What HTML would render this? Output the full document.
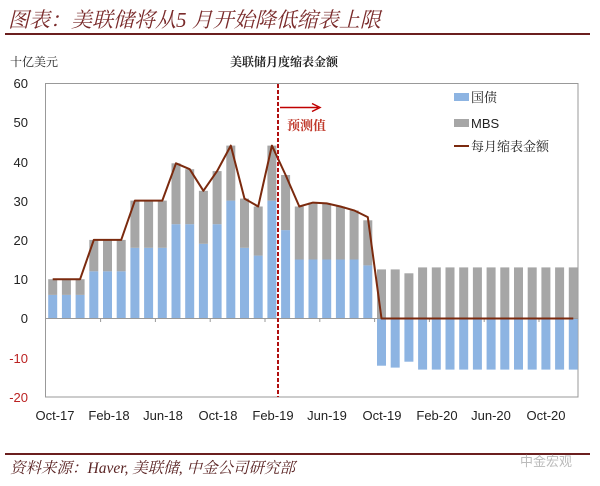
<!DOCTYPE html>
<html><head><meta charset="utf-8"><style>
body{margin:0;background:#fff;}
svg{display:block;}
text{font-family:"Liberation Sans","Noto Sans CJK SC",sans-serif;}
.s{font-family:"Liberation Serif","Noto Serif CJK SC",serif;}
</style></head><body>
<svg width="600" height="486" viewBox="0 0 600 486" xmlns="http://www.w3.org/2000/svg">
<text x="8" y="27" class="s" font-size="21" font-style="italic" fill="#7a2b2b">图表：美联储将从5 月开始降低缩表上限</text>
<line x1="5" y1="34" x2="590" y2="34" stroke="#6b1f1f" stroke-width="2"/>
<text x="10" y="66" class="s" font-size="12" fill="#222">十亿美元</text>
<text x="230" y="66" class="s" font-size="12" font-weight="bold" fill="#222">美联储月度缩表金额</text>
<rect x="45.5" y="83.5" width="532.5" height="313.5" fill="none" stroke="#999" stroke-width="1"/>
<g font-size="13" fill="#222" text-anchor="end">
<text x="28" y="88">60</text><text x="28" y="127">50</text><text x="28" y="167">40</text><text x="28" y="206">30</text><text x="28" y="245">20</text><text x="28" y="284">10</text><text x="28" y="323">0</text>
<text x="28" y="363" fill="#b22">-10</text><text x="28" y="402" fill="#b22">-20</text>
</g>
<g fill="#8db4e2">
<rect x="48.2" y="294.9" width="9" height="23.6"/><rect x="61.9" y="294.9" width="9" height="23.6"/><rect x="75.6" y="294.9" width="9" height="23.6"/>
<rect x="89.3" y="271.3" width="9" height="47.2"/><rect x="103" y="271.3" width="9" height="47.2"/><rect x="116.7" y="271.3" width="9" height="47.2"/>
<rect x="130.4" y="247.8" width="9" height="70.7"/><rect x="144.1" y="247.8" width="9" height="70.7"/><rect x="157.8" y="247.8" width="9" height="70.7"/>
<rect x="171.5" y="224.2" width="9" height="94.3"/><rect x="185.2" y="224.2" width="9" height="94.3"/><rect x="198.9" y="243.8" width="9" height="74.7"/>
<rect x="212.6" y="224.2" width="9" height="94.3"/><rect x="226.3" y="200.6" width="9" height="117.9"/><rect x="240" y="247.8" width="9" height="70.7"/>
<rect x="253.7" y="255.6" width="9" height="62.9"/><rect x="267.4" y="200.6" width="9" height="117.9"/><rect x="281.1" y="230.1" width="9" height="88.4"/>
<rect x="294.8" y="259.5" width="9" height="59"/><rect x="308.5" y="259.5" width="9" height="59"/><rect x="322.2" y="259.5" width="9" height="59"/>
<rect x="335.9" y="259.5" width="9" height="59"/><rect x="349.6" y="259.5" width="9" height="59"/><rect x="363.3" y="265.4" width="9" height="53.1"/>
<rect x="377" y="318.5" width="9" height="47.2"/><rect x="390.7" y="318.5" width="9" height="49.1"/><rect x="404.4" y="318.5" width="9" height="43.2"/>
<rect x="418.1" y="318.5" width="9" height="51.1"/><rect x="431.8" y="318.5" width="9" height="51.1"/><rect x="445.5" y="318.5" width="9" height="51.1"/>
<rect x="459.2" y="318.5" width="9" height="51.1"/><rect x="472.9" y="318.5" width="9" height="51.1"/><rect x="486.6" y="318.5" width="9" height="51.1"/>
<rect x="500.3" y="318.5" width="9" height="51.1"/><rect x="514" y="318.5" width="9" height="51.1"/><rect x="527.7" y="318.5" width="9" height="51.1"/>
<rect x="541.4" y="318.5" width="9" height="51.1"/><rect x="555.1" y="318.5" width="9" height="51.1"/><rect x="568.8" y="318.5" width="9" height="51.1"/>
</g>
<g fill="#a6a6a6">
<rect x="48.2" y="279.2" width="9" height="15.7"/><rect x="61.9" y="279.2" width="9" height="15.7"/><rect x="75.6" y="279.2" width="9" height="15.7"/>
<rect x="89.3" y="239.9" width="9" height="31.4"/><rect x="103" y="239.9" width="9" height="31.4"/><rect x="116.7" y="239.9" width="9" height="31.4"/>
<rect x="130.4" y="200.6" width="9" height="47.2"/><rect x="144.1" y="200.6" width="9" height="47.2"/><rect x="157.8" y="200.6" width="9" height="47.2"/>
<rect x="171.5" y="163.3" width="9" height="60.9"/><rect x="185.2" y="169.2" width="9" height="55"/><rect x="198.9" y="190.8" width="9" height="53"/>
<rect x="212.6" y="171.1" width="9" height="53.1"/><rect x="226.3" y="145.6" width="9" height="55"/><rect x="240" y="198.6" width="9" height="49.2"/>
<rect x="253.7" y="206.5" width="9" height="49.1"/><rect x="267.4" y="145.6" width="9" height="55"/><rect x="281.1" y="175" width="9" height="55.1"/>
<rect x="294.8" y="206.5" width="9" height="53"/><rect x="308.5" y="202.6" width="9" height="56.9"/><rect x="322.2" y="203.4" width="9" height="56.1"/>
<rect x="335.9" y="206.5" width="9" height="53"/><rect x="349.6" y="210.4" width="9" height="49.1"/><rect x="363.3" y="220.3" width="9" height="45.1"/>
<rect x="377" y="269.4" width="9" height="49.1"/><rect x="390.7" y="269.4" width="9" height="49.1"/><rect x="404.4" y="273.3" width="9" height="45.2"/>
<rect x="418.1" y="267.4" width="9" height="51.1"/><rect x="431.8" y="267.4" width="9" height="51.1"/><rect x="445.5" y="267.4" width="9" height="51.1"/>
<rect x="459.2" y="267.4" width="9" height="51.1"/><rect x="472.9" y="267.4" width="9" height="51.1"/><rect x="486.6" y="267.4" width="9" height="51.1"/>
<rect x="500.3" y="267.4" width="9" height="51.1"/><rect x="514" y="267.4" width="9" height="51.1"/><rect x="527.7" y="267.4" width="9" height="51.1"/>
<rect x="541.4" y="267.4" width="9" height="51.1"/><rect x="555.1" y="267.4" width="9" height="51.1"/><rect x="568.8" y="267.4" width="9" height="51.1"/>
</g>
<line x1="45.5" y1="318.5" x2="578" y2="318.5" stroke="#999"/>
<g stroke="#999"><line x1="100.6" y1="318.5" x2="100.6" y2="322"/><line x1="155.4" y1="318.5" x2="155.4" y2="322"/><line x1="210.2" y1="318.5" x2="210.2" y2="322"/><line x1="265" y1="318.5" x2="265" y2="322"/><line x1="319.8" y1="318.5" x2="319.8" y2="322"/><line x1="374.6" y1="318.5" x2="374.6" y2="322"/><line x1="429.4" y1="318.5" x2="429.4" y2="322"/><line x1="484.2" y1="318.5" x2="484.2" y2="322"/><line x1="539" y1="318.5" x2="539" y2="322"/></g>
<polyline fill="none" stroke="#7b2a0e" stroke-width="2" stroke-linejoin="round" points="52.7,279.2 80.1,279.2 93.8,239.9 121.2,239.9 134.9,200.6 162.3,200.6 176,163.3 189.7,169.2 203.4,190.8 217.1,171.1 230.8,145.6 244.5,198.6 258.2,206.5 271.9,145.6 285.6,175 299.3,206.5 313,202.6 326.7,203.4 340.4,206.5 354.1,210.4 367.8,217.1 381.5,318.5 573.3,318.5"/>
<line x1="278" y1="84" x2="278" y2="397" stroke="#b01010" stroke-width="2" stroke-dasharray="4,2"/>
<line x1="280" y1="107.5" x2="318" y2="107.5" stroke="#c00000" stroke-width="1.5"/>
<polyline points="312,103.5 320,107.5 312,111.5" fill="none" stroke="#c00000" stroke-width="1.5"/>
<text x="287" y="130" class="s" font-size="13" font-weight="bold" fill="#c0392b">预测值</text>
<rect x="454" y="93" width="15" height="8" fill="#8db4e2"/>
<text x="471" y="102" class="s" font-size="13" fill="#222">国债</text>
<rect x="454" y="119" width="15" height="8" fill="#a6a6a6"/>
<text x="471" y="128" font-size="13" fill="#222">MBS</text>
<line x1="454" y1="146" x2="469" y2="146" stroke="#7b2a0e" stroke-width="2"/>
<text x="471" y="151" class="s" font-size="13" fill="#222">每月缩表金额</text>
<g font-size="13" fill="#222" text-anchor="middle">
<text x="55" y="420">Oct-17</text><text x="109" y="420">Feb-18</text><text x="163" y="420">Jun-18</text><text x="218" y="420">Oct-18</text><text x="273" y="420">Feb-19</text><text x="327" y="420">Jun-19</text><text x="382" y="420">Oct-19</text><text x="437" y="420">Feb-20</text><text x="491" y="420">Jun-20</text><text x="546" y="420">Oct-20</text>
</g>
<line x1="5" y1="454" x2="590" y2="454" stroke="#6b1f1f" stroke-width="2"/>
<text x="10" y="473" class="s" font-size="15.5" font-style="italic" fill="#5a2323">资料来源：Haver, 美联储, 中金公司研究部</text>
<text x="520" y="466" font-size="13" fill="#bbb">中金宏观</text>
</svg>
</body></html>
